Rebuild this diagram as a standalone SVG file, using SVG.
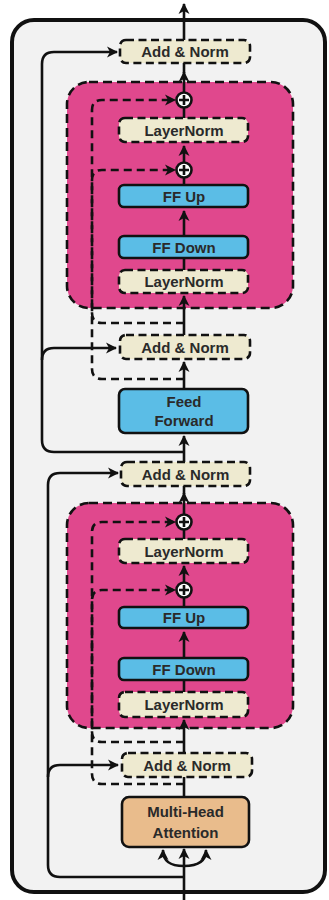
<svg xmlns="http://www.w3.org/2000/svg" width="329" height="900" viewBox="0 0 329 900">
<defs>
<marker id="ah" markerWidth="12" markerHeight="12" refX="10" refY="6" orient="auto" markerUnits="userSpaceOnUse"><path d="M0,0.5 L11,6 L0,11.5 L3,6 z" fill="#111"/></marker>
<style>
.outer{fill:#f2f2f2;stroke:#111;stroke-width:4}
.pink{fill:#e0488d;stroke:#111;stroke-width:2.6;stroke-dasharray:9 5}
.dbox{fill:#eeead0;stroke:#111;stroke-width:2.6;stroke-dasharray:8 4.5}
.blue{fill:#5bbde6;stroke:#111;stroke-width:2.6}
.tan{fill:#e9bc8c;stroke:#111;stroke-width:2.6}
.t{font-family:"Liberation Sans",Arial,sans-serif;font-weight:bold;font-size:15px;fill:#2a2a2a;text-anchor:middle}
.ln{fill:none;stroke:#111;stroke-width:2.6}
.dl{fill:none;stroke:#111;stroke-width:2.6;stroke-dasharray:8 5}
.arr{marker-end:url(#ah)}
.pc{fill:#fff;stroke:#111;stroke-width:2.6}
</style>
</defs>
<rect class="outer" x="12" y="20" width="313" height="872" rx="22"/>
<rect id="pink1" class="pink" x="67" y="82" width="226" height="226" rx="22"/>
<rect id="pink2" class="pink" x="67" y="503" width="226" height="225" rx="22"/>
<g id="connectors">
<path class="ln arr" d="M184 40 V4"/>
<path class="ln arr" d="M184 92.5 V72"/><path class="ln" d="M184 73 V63"/>
<path class="ln" d="M184 118 V107.5"/>
<path class="ln arr" d="M184 162.5 V146"/>
<path class="ln" d="M184 185 V177.5"/>
<path class="ln arr" d="M184 236 V211"/>
<path class="ln" d="M184 270 V258"/>
<path class="ln arr" d="M184 335 V296"/>
<path class="ln arr" d="M184 389 V362"/>
<path class="ln arr" d="M184 462 V436"/>
<path class="ln arr" d="M184 514.5 V493"/><path class="ln" d="M184 494 V486"/>
<path class="ln" d="M184 539 V529.5"/>
<path class="ln arr" d="M184 582.5 V566"/>
<path class="ln" d="M184 607 V597.5"/>
<path class="ln arr" d="M184 658 V632"/>
<path class="ln" d="M184 692 V680"/>
<path class="ln arr" d="M184 753 V720"/>
<path class="ln" d="M184 797 V777"/>
<path class="ln arr" d="M184 900 V849"/>
<path class="ln arr" d="M184 866 C171 866 163 862 163 850"/>
<path class="ln arr" d="M184 866 C197 866 206 862 206 850"/>
<path class="ln arr" d="M184 452 H54 Q42 452 42 440 V64 Q42 52 54 52 H117"/>
<path class="ln arr" d="M42 360 Q42 348 54 348 H116"/>
<path class="ln arr" d="M184 877 H60 Q48 877 48 865 V485 Q48 473 60 473 H118"/>
<path class="ln arr" d="M48 777 Q48 765 60 765 H118"/>
<path class="dl arr" d="M184 323 H102 Q92 323 92 313 V110 Q92 100 102 100 H175"/>
<path class="dl arr" d="M184 379 H102 Q92 379 92 369 V180 Q92 170 102 170 H175"/>
<path class="dl arr" d="M184 742 H102 Q92 742 92 732 V532 Q92 522 102 522 H175"/>
<path class="dl arr" d="M184 784 H102 Q92 784 92 774 V600 Q92 590 102 590 H175"/>
</g>
<g id="addnorm1"><rect class="dbox" x="120" y="40" width="130" height="23" rx="6"/><text class="t" x="185" y="57">Add &amp; Norm</text></g>
<g id="plus1"><circle class="pc" cx="184" cy="100" r="7.5"/><path class="ln" d="M179 100 H189 M184 95 V105" stroke-width="2"/></g>
<g id="layernorm1"><rect class="dbox" x="119" y="118" width="129" height="24" rx="6"/><text class="t" x="184" y="135.5">LayerNorm</text></g>
<g id="plus2"><circle class="pc" cx="184" cy="170" r="7.5"/><path class="ln" d="M179 170 H189 M184 165 V175" stroke-width="2"/></g>
<g id="ffup1"><rect class="blue" x="119" y="185" width="129" height="22" rx="5"/><text class="t" x="184" y="201.5">FF Up</text></g>
<g id="ffdown1"><rect class="blue" x="119" y="236" width="129" height="22" rx="5"/><text class="t" x="184" y="252.5">FF Down</text></g>
<g id="layernorm1b"><rect class="dbox" x="119" y="270" width="129" height="23" rx="6"/><text class="t" x="184" y="287">LayerNorm</text></g>
<g id="addnorm2"><rect class="dbox" x="120" y="335" width="130" height="24" rx="6"/><text class="t" x="185" y="352.5">Add &amp; Norm</text></g>
<g id="feedforward"><rect class="blue" x="119" y="389" width="129" height="44" rx="6"/><text class="t" x="184" y="407">Feed</text><text class="t" x="184" y="426">Forward</text></g>
<g id="addnorm3"><rect class="dbox" x="121" y="462" width="129" height="24" rx="6"/><text class="t" x="185.5" y="479.5">Add &amp; Norm</text></g>
<g id="plus3"><circle class="pc" cx="184" cy="522" r="7.5"/><path class="ln" d="M179 522 H189 M184 517 V527" stroke-width="2"/></g>
<g id="layernorm2"><rect class="dbox" x="119" y="539" width="129" height="24" rx="6"/><text class="t" x="184" y="556.5">LayerNorm</text></g>
<g id="plus4"><circle class="pc" cx="184" cy="590" r="7.5"/><path class="ln" d="M179 590 H189 M184 585 V595" stroke-width="2"/></g>
<g id="ffup2"><rect class="blue" x="119" y="607" width="129" height="21" rx="5"/><text class="t" x="184" y="623">FF Up</text></g>
<g id="ffdown2"><rect class="blue" x="119" y="658" width="129" height="22" rx="5"/><text class="t" x="184" y="674.5">FF Down</text></g>
<g id="layernorm2b"><rect class="dbox" x="119" y="692" width="129" height="25" rx="6"/><text class="t" x="184" y="710">LayerNorm</text></g>
<g id="addnorm4"><rect class="dbox" x="122" y="753" width="130" height="24" rx="6"/><text class="t" x="187" y="770.5">Add &amp; Norm</text></g>
<g id="mha"><rect class="tan" x="122" y="797" width="127" height="50" rx="7"/><text class="t" x="185.5" y="817">Multi-Head</text><text class="t" x="185.5" y="838">Attention</text></g>
</svg>
